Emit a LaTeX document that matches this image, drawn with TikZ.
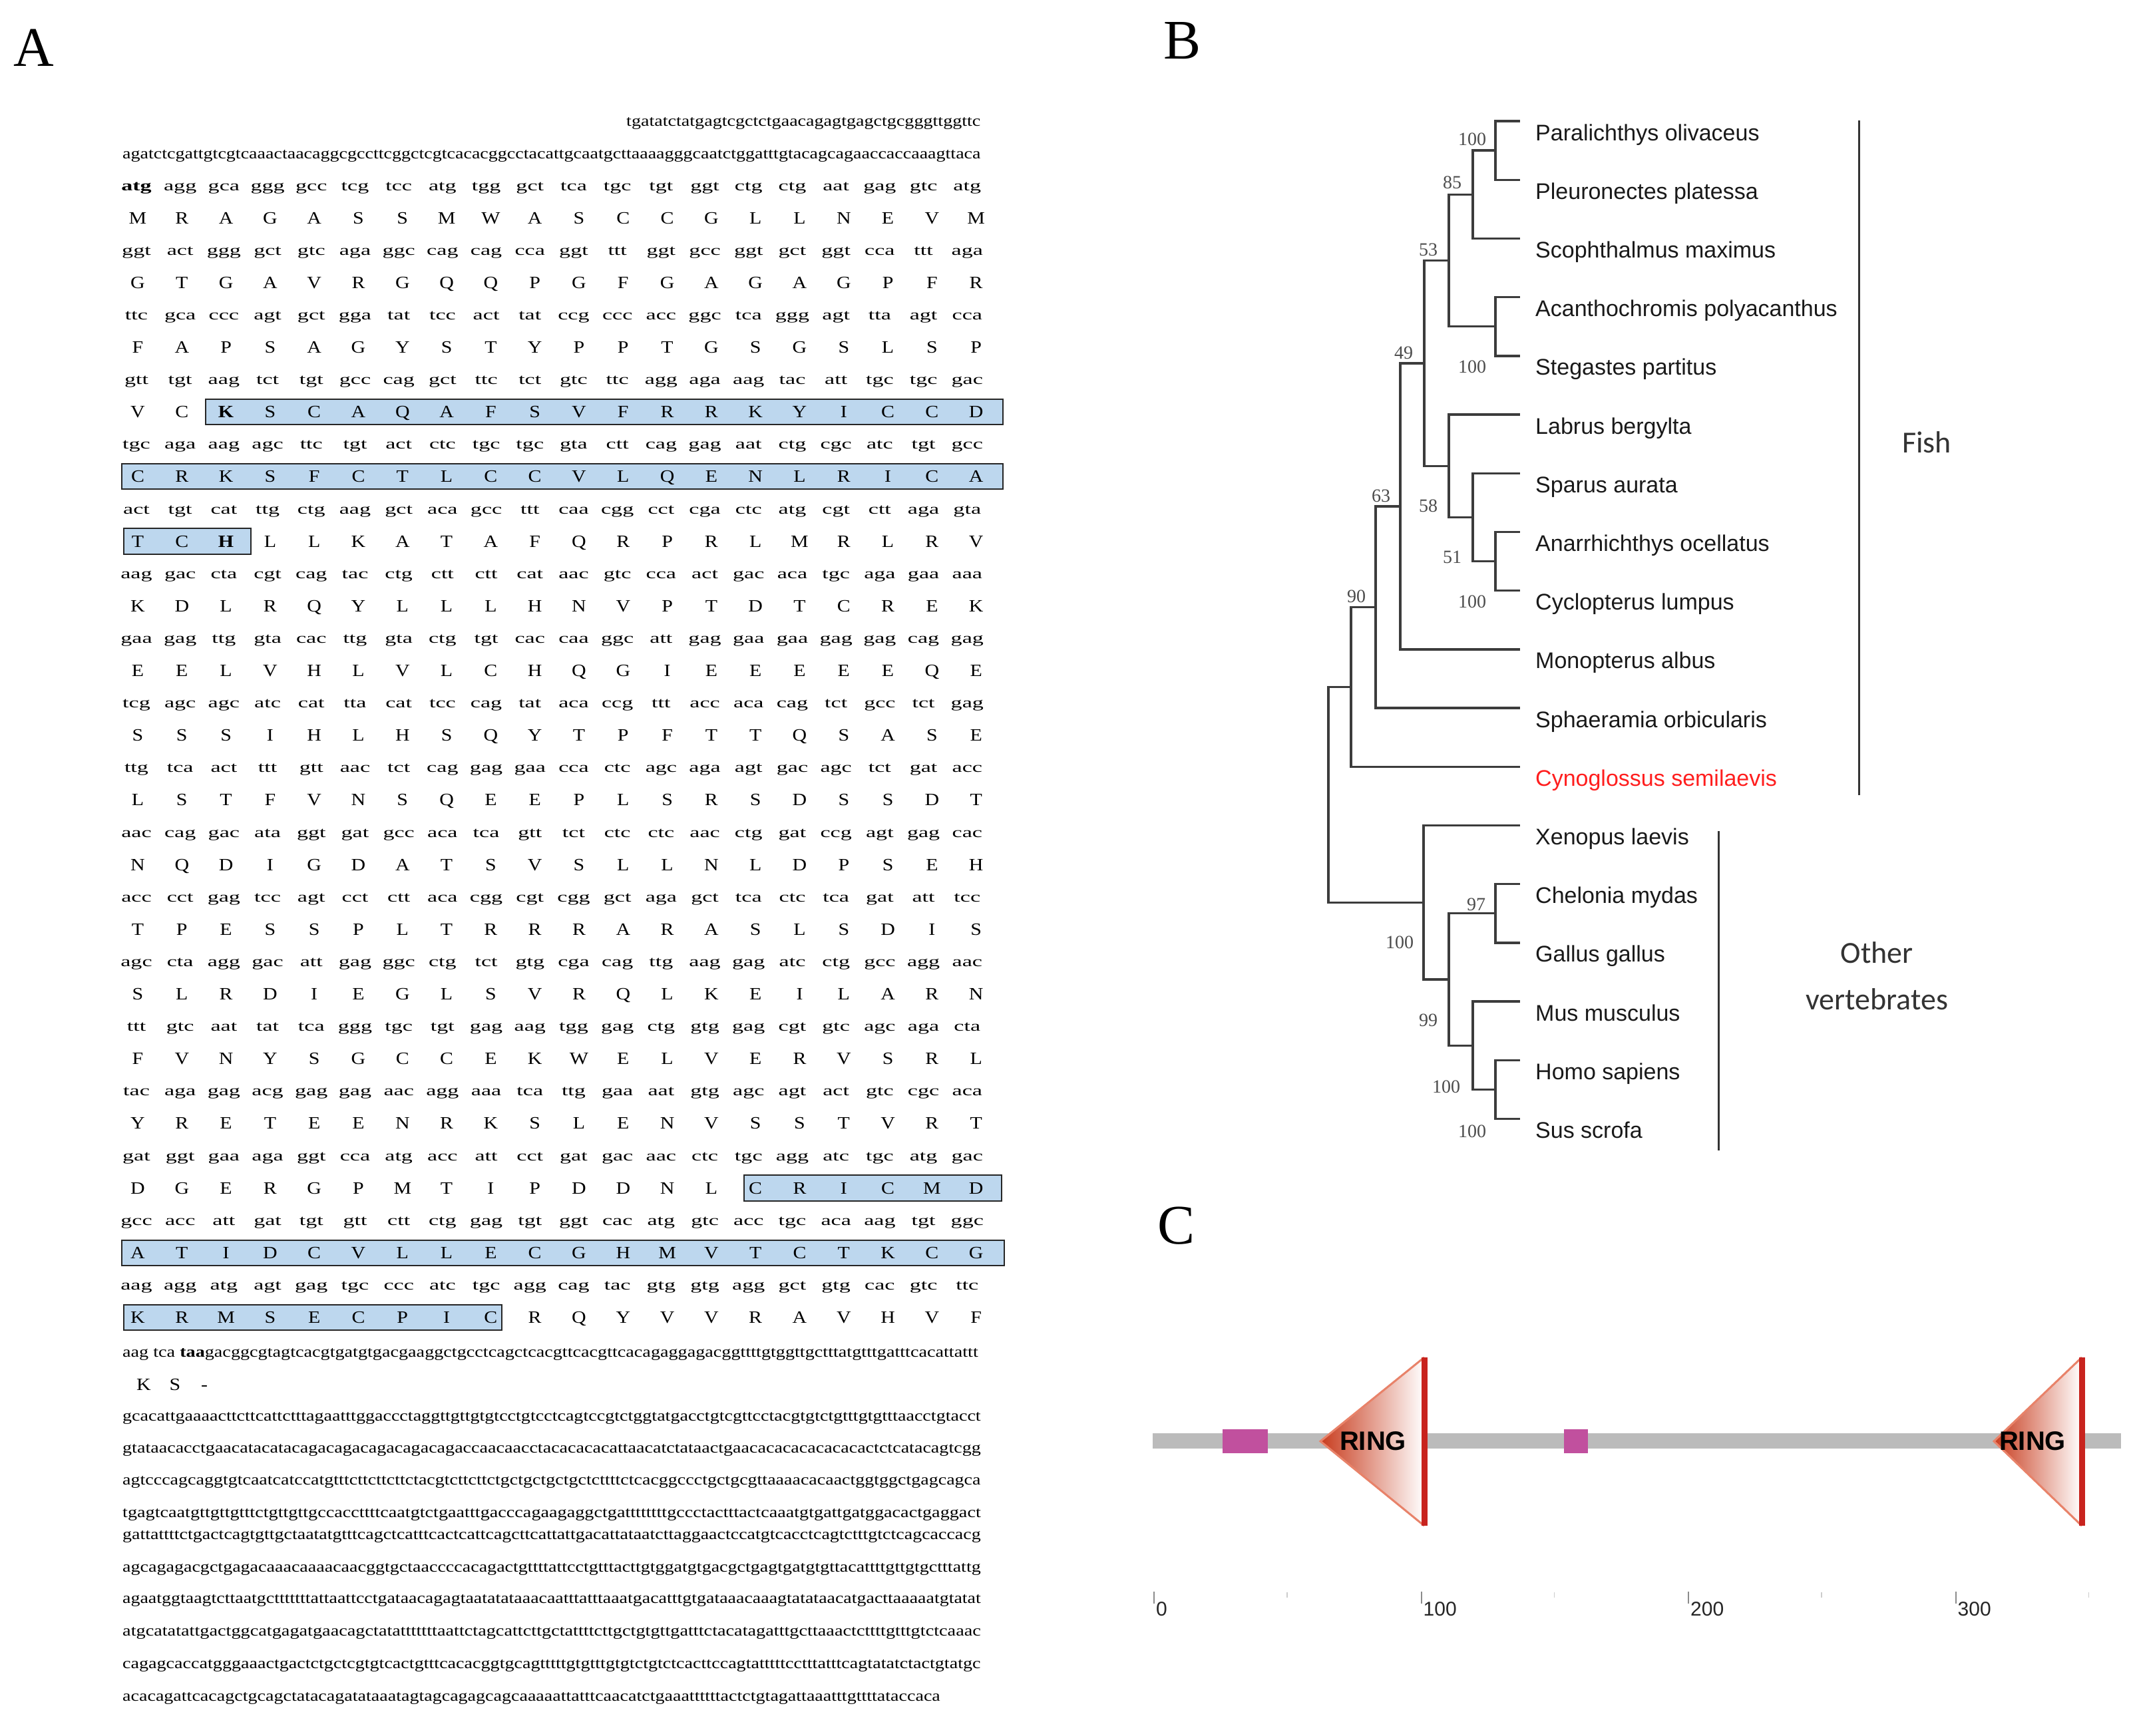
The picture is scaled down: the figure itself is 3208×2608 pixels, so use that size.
\documentclass[tikz,border=0pt]{standalone}
\usepackage{fontspec}
\usepackage{graphicx}
\setmainfont{Liberation Serif}
\newfontfamily\codonfont[FakeStretch=1.55]{Liberation Serif}
\newfontfamily\aafont[FakeStretch=1.15]{Liberation Serif}
\newfontfamily\utrfont{Liberation Serif}
\newfontfamily\taxonfont{Liberation Sans}
\newfontfamily\groupfont{Carlito}

\definecolor{motifblue}{RGB}{189,215,238}
\definecolor{treegray}{RGB}{60,60,60}
\definecolor{taxonblack}{RGB}{25,25,25}
\definecolor{cynored}{RGB}{255,30,30}
\definecolor{ringdark}{RGB}{200,60,30}
\definecolor{ringred}{RGB}{200,35,30}
\definecolor{ringedge}{RGB}{232,130,105}
\definecolor{motifpink}{RGB}{193,80,158}
\definecolor{bargray}{RGB}{187,187,187}

\newcommand{\codonrow}[2]{%
  \foreach \cod [count=\i from 0] in {#2}
    \node[codon] (cod#1-\i) at ({205+65.7*\i},{286+97.2*#1}) {\cod};}
\newcommand{\aminorow}[2]{%
  \foreach \res [count=\i from 0] in {#2}
    \node[amino] (aa#1-\i) at ({207+66.3*\i},{336+97.2*#1}) {\res};}
\newcommand{\ntfit}[2]{\resizebox{#1pt}{13pt}{\utrfont #2}}

\begin{document}
\begin{tikzpicture}[x=1pt, y=-1pt,
        codon/.style={font=\codonfont\fontsize{22}{24}\selectfont, anchor=base, inner sep=0pt, text=black},
        amino/.style={font=\aafont\fontsize{26}{28}\selectfont, anchor=base, inner sep=0pt, text=black},
        ntline/.style={anchor=base west, inner sep=0pt, text=black},
        motif/.style={draw=black!85, line width=2.5pt, fill=motifblue},
        panel/.style={font=\fontsize{84}{90}\selectfont, inner sep=0pt},
        branch/.style={draw=treegray, line width=3.4pt},
        bracket/.style={draw=black!80, line width=3pt},
        taxon/.style={font=\taxonfont\fontsize{34}{36}\selectfont, anchor=base west, inner sep=0pt},
        boot/.style={font=\fontsize{28}{30}\selectfont, inner sep=0pt, text=black!70},
        group/.style={font=\groupfont\fontsize{46}{70}\selectfont, inner sep=0pt, text=black!80},
        ringlabel/.style={font=\taxonfont\bfseries\fontsize{40}{42}\selectfont, inner sep=0pt},
        axislabel/.style={font=\taxonfont\fontsize{30}{32}\selectfont, anchor=west, inner sep=0pt, text=black!85},
        majortick/.style={draw=black!45, line width=2pt},
        minortick/.style={draw=black!20, line width=1.5pt}
    ]
        \fill[white] (0,0) rectangle (3208,2608);
        \useasboundingbox (0,0) rectangle (3208,2608);

        \node[panel] (pA) at (51,72) {A};
        \node[panel] (pB) at (1776,61) {B};
        \node[panel] (pC) at (1767,1842) {C};

        % panel A
        \draw[motif] (309,600) rectangle (1507,638);
        \draw[motif] (183,697) rectangle (1507,735);
        \draw[motif] (186,794) rectangle (377,833);
        \draw[motif] (1118,1766) rectangle (1505,1805);
        \draw[motif] (183,1864) rectangle (1509,1902);
        \draw[motif] (186,1961) rectangle (754,1999);

        \node[ntline] (utr5-0) at (941,189) {\ntfit{532}{tgatatctatgagtcgctctgaacagagtgagctgcgggttggttc}};
        \node[ntline] (utr5-1) at (184,238) {\ntfit{1289}{agatctcgattgtcgtcaaactaacaggcgccttcggctcgtcacacggcctacattgcaatgcttaaaagggcaatctggatttgtacagcagaaccaccaaagttaca}};

        \codonrow{0}{\textbf{atg},agg,gca,ggg,gcc,tcg,tcc,atg,tgg,gct,tca,tgc,tgt,ggt,ctg,ctg,aat,gag,gtc,atg}
        \aminorow{0}{M,R,A,G,A,S,S,M,W,A,S,C,C,G,L,L,N,E,V,M}
        \codonrow{1}{ggt,act,ggg,gct,gtc,aga,ggc,cag,cag,cca,ggt,ttt,ggt,gcc,ggt,gct,ggt,cca,ttt,aga}
        \aminorow{1}{G,T,G,A,V,R,G,Q,Q,P,G,F,G,A,G,A,G,P,F,R}
        \codonrow{2}{ttc,gca,ccc,agt,gct,gga,tat,tcc,act,tat,ccg,ccc,acc,ggc,tca,ggg,agt,tta,agt,cca}
        \aminorow{2}{F,A,P,S,A,G,Y,S,T,Y,P,P,T,G,S,G,S,L,S,P}
        \codonrow{3}{gtt,tgt,aag,tct,tgt,gcc,cag,gct,ttc,tct,gtc,ttc,agg,aga,aag,tac,att,tgc,tgc,gac}
        \aminorow{3}{V,C,\textbf{K},S,C,A,Q,A,F,S,V,F,R,R,K,Y,I,C,C,D}
        \codonrow{4}{tgc,aga,aag,agc,ttc,tgt,act,ctc,tgc,tgc,gta,ctt,cag,gag,aat,ctg,cgc,atc,tgt,gcc}
        \aminorow{4}{C,R,K,S,F,C,T,L,C,C,V,L,Q,E,N,L,R,I,C,A}
        \codonrow{5}{act,tgt,cat,ttg,ctg,aag,gct,aca,gcc,ttt,caa,cgg,cct,cga,ctc,atg,cgt,ctt,aga,gta}
        \aminorow{5}{T,C,\textbf{H},L,L,K,A,T,A,F,Q,R,P,R,L,M,R,L,R,V}
        \codonrow{6}{aag,gac,cta,cgt,cag,tac,ctg,ctt,ctt,cat,aac,gtc,cca,act,gac,aca,tgc,aga,gaa,aaa}
        \aminorow{6}{K,D,L,R,Q,Y,L,L,L,H,N,V,P,T,D,T,C,R,E,K}
        \codonrow{7}{gaa,gag,ttg,gta,cac,ttg,gta,ctg,tgt,cac,caa,ggc,att,gag,gaa,gaa,gag,gag,cag,gag}
        \aminorow{7}{E,E,L,V,H,L,V,L,C,H,Q,G,I,E,E,E,E,E,Q,E}
        \codonrow{8}{tcg,agc,agc,atc,cat,tta,cat,tcc,cag,tat,aca,ccg,ttt,acc,aca,cag,tct,gcc,tct,gag}
        \aminorow{8}{S,S,S,I,H,L,H,S,Q,Y,T,P,F,T,T,Q,S,A,S,E}
        \codonrow{9}{ttg,tca,act,ttt,gtt,aac,tct,cag,gag,gaa,cca,ctc,agc,aga,agt,gac,agc,tct,gat,acc}
        \aminorow{9}{L,S,T,F,V,N,S,Q,E,E,P,L,S,R,S,D,S,S,D,T}
        \codonrow{10}{aac,cag,gac,ata,ggt,gat,gcc,aca,tca,gtt,tct,ctc,ctc,aac,ctg,gat,ccg,agt,gag,cac}
        \aminorow{10}{N,Q,D,I,G,D,A,T,S,V,S,L,L,N,L,D,P,S,E,H}
        \codonrow{11}{acc,cct,gag,tcc,agt,cct,ctt,aca,cgg,cgt,cgg,gct,aga,gct,tca,ctc,tca,gat,att,tcc}
        \aminorow{11}{T,P,E,S,S,P,L,T,R,R,R,A,R,A,S,L,S,D,I,S}
        \codonrow{12}{agc,cta,agg,gac,att,gag,ggc,ctg,tct,gtg,cga,cag,ttg,aag,gag,atc,ctg,gcc,agg,aac}
        \aminorow{12}{S,L,R,D,I,E,G,L,S,V,R,Q,L,K,E,I,L,A,R,N}
        \codonrow{13}{ttt,gtc,aat,tat,tca,ggg,tgc,tgt,gag,aag,tgg,gag,ctg,gtg,gag,cgt,gtc,agc,aga,cta}
        \aminorow{13}{F,V,N,Y,S,G,C,C,E,K,W,E,L,V,E,R,V,S,R,L}
        \codonrow{14}{tac,aga,gag,acg,gag,gag,aac,agg,aaa,tca,ttg,gaa,aat,gtg,agc,agt,act,gtc,cgc,aca}
        \aminorow{14}{Y,R,E,T,E,E,N,R,K,S,L,E,N,V,S,S,T,V,R,T}
        \codonrow{15}{gat,ggt,gaa,aga,ggt,cca,atg,acc,att,cct,gat,gac,aac,ctc,tgc,agg,atc,tgc,atg,gac}
        \aminorow{15}{D,G,E,R,G,P,M,T,I,P,D,D,N,L,C,R,I,C,M,D}
        \codonrow{16}{gcc,acc,att,gat,tgt,gtt,ctt,ctg,gag,tgt,ggt,cac,atg,gtc,acc,tgc,aca,aag,tgt,ggc}
        \aminorow{16}{A,T,I,D,C,V,L,L,E,C,G,H,M,V,T,C,T,K,C,G}
        \codonrow{17}{aag,agg,atg,agt,gag,tgc,ccc,atc,tgc,agg,cag,tac,gtg,gtg,agg,gct,gtg,cac,gtc,ttc}
        \aminorow{17}{K,R,M,S,E,C,P,I,C,R,Q,Y,V,V,R,A,V,H,V,F}

        \node[ntline] (stop) at (184,2039) {\ntfit{1285}{aag tca \textbf{taa}gacggcgtagtcacgtgatgtgacgaaggctgcctcagctcacgttcacgttcacagaggagacggttttgtggttgctttatgtttgatttcacattattt}};
        \node[amino] (aa18-0) at (216,2089) {K};
        \node[amino] (aa18-1) at (263,2089) {S};
        \node[amino] (aa18-2) at (307,2089) {-};

        \foreach \w/\y/\s [count=\i] in {
            1289/2135/gcacattgaaaacttcttcattctttagaatttggaccctaggttgttgtgtcctgtcctcagtccgtctggtatgacctgtcgttcctacgtgtctgtttgtgtttaacctgtacct,
            1289/2183/gtataacacctgaacatacatacagacagacagacagacagaccaacaacctacacacacattaacatctataactgaacacacacacacacactctcatacagtcgg,
            1289/2231/agtcccagcaggtgtcaatcatccatgtttcttcttcttctacgtcttcttctgctgctgctgctcttttctcacggccctgctgcgttaaaacacaactggtggctgagcagca,
            1289/2280/tgagtcaatgttgttgtttctgttgttgccaccttttcaatgtctgaatttgacccagaagaggctgattttttttgccctactttactcaaatgtgattgatggacactgaggact,
            1289/2313/gattattttctgactcagtgttgctaatatgtttcagctcatttcactcattcagcttcattattgacattataatcttaggaactccatgtcacctcagtctttgtctcagcaccacg,
            1289/2362/agcagagacgctgagacaaacaaaacaacggtgctaaccccacagactgttttattcctgtttacttgtggatgtgacgctgagtgatgtgttacattttgttgtgctttattg,
            1289/2409/agaatggtaagtcttaatgctttttttattaattcctgataacagagtaatatataaacaatttatttaaatgacatttgtgataaacaaagtatataacatgacttaaaaatgtatat,
            1289/2458/atgcatatattgactggcatgagatgaacagctatatttttttaattctagcattcttgctattttcttgctgtgttgatttctacatagatttgcttaaactcttttgtttgtctcaaac,
            1289/2507/cagagcaccatgggaaactgactctgctcgtgtcactgtttcacacggtgcagtttttgtgtttgtgtctgtctcacttccagtatttttcctttatttcagtatatctactgtatgc,
            1228/2556/acacagattcacagctgcagctatacagatataaatagtagcagagcagcaaaaattatttcaacatctgaaattttttactctgtagattaaatttgttttataccaca}
            \node[ntline] (utr3-\i) at (184,\y) {\ntfit{\w}{\s}};

        % panel B
        \foreach \name/\lab/\col [count=\i from 0] in {
            para/Paralichthys olivaceus/taxonblack,
            pleu/Pleuronectes platessa/taxonblack,
            scop/Scophthalmus maximus/taxonblack,
            acan/Acanthochromis polyacanthus/taxonblack,
            steg/Stegastes partitus/taxonblack,
            labr/Labrus bergylta/taxonblack,
            spar/Sparus aurata/taxonblack,
            anar/Anarrhichthys ocellatus/taxonblack,
            cycl/Cyclopterus lumpus/taxonblack,
            mono/Monopterus albus/taxonblack,
            sphae/Sphaeramia orbicularis/taxonblack,
            cyno/Cynoglossus semilaevis/cynored,
            xeno/Xenopus laevis/taxonblack,
            chel/Chelonia mydas/taxonblack,
            gall/Gallus gallus/taxonblack,
            mus/Mus musculus/taxonblack,
            homo/Homo sapiens/taxonblack,
            sus/Sus scrofa/taxonblack} {
            \coordinate (tip-\name) at (2284,{182+88.2*\i});
            \node[taxon, text=\col] (lab-\name) at (2307,{211+88.2*\i}) {\lab};
        }

        \coordinate (nA) at (2247,226.1);
        \coordinate (nB) at (2213,292.3);
        \coordinate (nC) at (2247,490.7);
        \coordinate (nD) at (2177,391.5);
        \coordinate (nE) at (2247,843.5);
        \coordinate (nF) at (2213,777.4);
        \coordinate (nG) at (2177,700.2);
        \coordinate (nH) at (2140,545.8);
        \coordinate (nI) at (2104,760.8);
        \coordinate (nJ) at (2067,912.4);
        \coordinate (nK) at (2030,1032.3);
        \coordinate (nX) at (2247,1372.7);
        \coordinate (nZ) at (2247,1637.3);
        \coordinate (nY) at (2213,1571.2);
        \coordinate (nW) at (2177,1472);
        \coordinate (nV) at (2139,1356.2);
        \coordinate (root) at (1996,1194.2);

        \foreach \p/\q in {nA/tip-para, nA/tip-pleu, nB/nA, nB/tip-scop, nC/tip-acan, nC/tip-steg,
            nD/nB, nD/nC, nE/tip-anar, nE/tip-cycl, nF/tip-spar, nF/nE, nG/tip-labr, nG/nF,
            nH/nD, nH/nG, nI/nH, nI/tip-mono, nJ/nI, nJ/tip-sphae, nK/nJ, nK/tip-cyno,
            root/nK, root/nV, nV/tip-xeno, nV/nW, nW/nX, nW/nY, nX/tip-chel, nX/tip-gall,
            nY/tip-mus, nY/nZ, nZ/tip-homo, nZ/tip-sus}
            \draw[branch] (\p) |- (\q);

        \foreach \v/\x/\y [count=\i] in {100/2212/209, 85/2182/274, 53/2146/375, 100/2212/551,
            49/2109/530, 63/2075/745, 58/2146/760, 51/2182/837, 100/2212/904, 90/2038/896,
            97/2218/1359, 100/2103/1416, 99/2146/1533, 100/2173/1633, 100/2212/1700}
            \node[boot] (bs-\i) at (\x,\y) {\v};

        \coordinate (fish-top) at (2793,181);
        \coordinate (fish-bot) at (2793,1195);
        \coordinate (vert-top) at (2582,1249);
        \coordinate (vert-bot) at (2582,1729);
        \draw[bracket] (fish-top) -- (fish-bot);
        \draw[bracket] (vert-top) -- (vert-bot);
        \node[group] (fish) at (2895,665) {Fish};
        \node[group, align=center] (others) at (2820,1467) {Other\\vertebrates};

        % panel C
        \fill[bargray] (1732,2154) rectangle (3187,2177);
        \fill[motifpink] (1837,2148) rectangle (1905,2184);
        \fill[motifpink] (2350,2148) rectangle (2386,2184);

        \foreach \tip/\edge/\lx [count=\r] in {1984/2140/2063, 2996/3128/3054} {
            \coordinate (ring\r-tip) at (\tip,2166);
            \coordinate (ring\r-top) at (\edge,2040);
            \coordinate (ring\r-bot) at (\edge,2293);
            \shade[left color=ringdark, right color=white] (ring\r-tip) -- (ring\r-top) -- (ring\r-bot) -- cycle;
            \draw[ringedge, line width=3pt] (ring\r-top) -- (ring\r-tip) -- (ring\r-bot);
            \draw[ringred, line width=9pt] (ring\r-top) -- (ring\r-bot);
            \node[ringlabel] (ring\r) at (\lx,2166) {RING};
        }

        \foreach \t [count=\k from 0] in {0,100,200,300} {
            \draw[majortick] ({1734+401.5*\k},2392) -- ++(0,18);
            \draw[minortick] ({1934+401.5*\k},2393) -- ++(0,8);
            \node[axislabel] (ax-\t) at ({1737+401.5*\k},2418) {\t};
        }
\end{tikzpicture}
\end{document}
